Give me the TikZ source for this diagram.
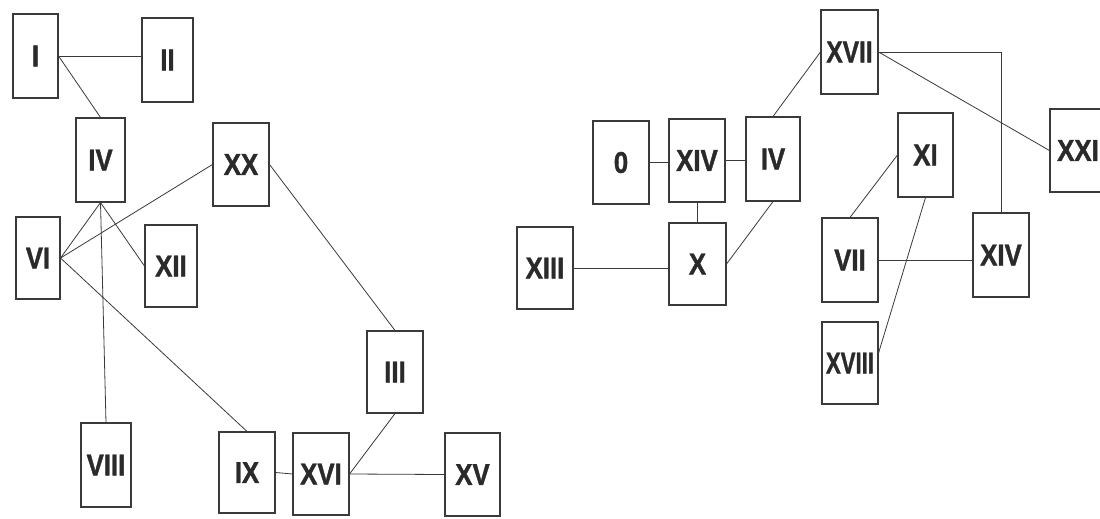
\documentclass[tikz,border=0pt]{standalone}
\usepackage{fontspec}
\newfontfamily\lab[FakeStretch=0.86,BoldFeatures={FakeBold=1.2}]{Liberation Sans}
\usetikzlibrary{calc}
\definecolor{ink}{HTML}{3A3A3A}
\definecolor{txt}{HTML}{2A2A2A}
\tikzset{
  box/.style={draw=ink, line width=1.1pt, rectangle, inner sep=0pt, text=txt,
    font=\lab\bfseries\fontsize{30}{30}\selectfont},
  link/.style={draw=ink, line width=0.8pt},
}
\newcommand{\bx}[5]{\node[box, minimum width=#3pt, minimum height=#4pt] (#1) at (#2) {#5};}
\begin{document}
\begin{tikzpicture}[x=1pt, y=-1pt]
\useasboundingbox (0,0) rectangle (1100,519);
\clip (0,0) rectangle (1100,519);
\fill[white] (0,0) rectangle (1100,519);
% left group
\bx{I}{35.5,56}{45}{84}{I}
\bx{II}{167.5,60}{51}{84}{II}
\bx{IVa}{100.5,160}{49}{84}{IV}
\bx{XX}{241,164.5}{56}{83}{XX}
\bx{VI}{38,258}{44}{82}{VI}
\bx{XII}{171,266}{52}{82}{XII}
\bx{VIII}{106,465}{50}{84}{VIII}
\bx{IX}{247,472.5}{56}{81}{IX}
\bx{XVI}{321,474}{56}{82}{XVI}
\bx{III}{395,372}{56}{82}{III}
\bx{XV}{472.5,474.5}{55}{83}{XV}
% right group
\bx{XIII}{545,268}{56}{82}{XIII}
\bx{O}{621,162.5}{56}{83}{0}
\bx{XIVa}{697,160.5}{56}{83}{XIV}
\bx{IVb}{773,159}{54}{84}{IV}
\bx{X}{697.5,264}{57}{82}{X}
\bx{XVII}{849.5,52}{57}{84}{\scalebox{0.95}[1]{XVII}}
\bx{XI}{925.5,155}{55}{84}{XI}
\bx{XXI}{1078,150.5}{56}{83}{XXI}
\bx{VII}{850,260}{56}{84}{VII}
\bx{XIVb}{1001,255}{56}{84}{XIV}
\bx{XVIII}{850,363}{56}{82}{\scalebox{0.86}[1]{XVIII}}
% connectors left
\draw[link] (I.east) -- (I.east -| II.west);
\draw[link] (I.east) -- (IVa.north);
\draw[link] (IVa.south) -- (VI.east);
\draw[link] (IVa.south) -- (XII.west);
\draw[link] (IVa.south) -- (VIII.north);
\draw[link] (VI.east) -- (XX.west);
\draw[link] (VI.east) -- (IX.north);
\draw[link] (XX.east) -- (III.north);
\draw[link] (III.south) -- (XVI.east);
\draw[link] (IX.east) -- (XVI.west);
\draw[link] (XVI.east) -- (XV.west);
% connectors right
\draw[link] (O.east) -- (O.east -| XIVa.west);
\draw[link] (XIVa.east) -- (XIVa.east -| IVb.west);
\draw[link] (XIVa.south) -- (XIVa.south |- X.north);
\draw[link] (XIII.east) -- (XIII.east -| X.west);
\draw[link] (X.east) -- (IVb.south);
\draw[link] (IVb.north) -- (XVII.west);
\draw[link] (XVII.east) -| (XIVb.north);
\draw[link] (XVII.east) -- (XXI.west);
\draw[link] (XI.west) -- (VII.north);
\draw[link] (XI.south) -- ($(XVIII.east)+(0,-10)$);
\draw[link] (VII.east) -- (VII.east -| XIVb.west);
\end{tikzpicture}
\end{document}
